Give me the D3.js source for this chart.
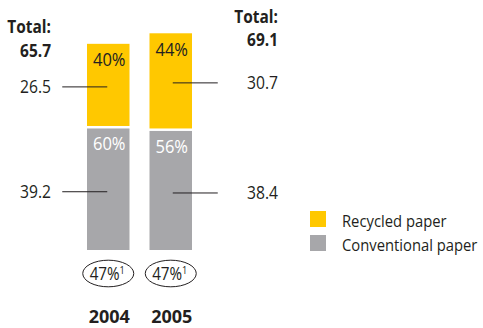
<!DOCTYPE html>
<html><head><meta charset="utf-8">
<script src="https://cdn.jsdelivr.net/npm/d3@7"></script>
<style>
body{margin:0;background:#fff;}
text{font-family:"Open Sans",sans-serif;fill:#231f20;}
</style></head>
<body>
<svg id="chart" width="483" height="328"></svg>
<script>
const years = ["2004", "2005"];
const conventional = [39.2, 38.4];
const recycled = [26.5, 30.7];
const totals = [65.7, 69.1];
const convPct = ["60%", "56%"];
const recPct = ["40%", "44%"];
const footPct = ["47%", "47%"];
const seriesNames = ["Recycled paper", "Conventional paper"];
const colors = {recycled: "#FFC800", conventional: "#A7A7AA"};

const svg = d3.select("#chart");
const x = d3.scaleBand().domain(years).range([87, 192]).paddingInner(0.32).paddingOuter(0);
const y = d3.scaleLinear().domain([0, 80]).range([250, 2]);
const gap = 2.5;
const bw = x.bandwidth();

function label(px, py, txt, o) {
  o = o || {};
  const t = svg.append("text")
    .attr("transform", `translate(${px},${py}) scale(${o.sx || 0.87},1)`)
    .attr("text-anchor", o.anchor || "start")
    .attr("font-size", o.size || 17)
    .attr("font-weight", o.bold ? "bold" : "normal")
    .text(txt);
  if (o.fill) t.style("fill", o.fill);
  return t;
}

years.forEach((yr, i) => {
  const x0 = x(yr), xc = x0 + bw / 2;
  const gTop = y(conventional[i]);
  const rBot = gTop - gap, rTop = y(totals[i]) - gap;
  svg.append("rect").attr("x", x0).attr("y", gTop).attr("width", bw).attr("height", y(0) - gTop).attr("fill", colors.conventional);
  svg.append("rect").attr("x", x0).attr("y", rTop).attr("width", bw).attr("height", rBot - rTop).attr("fill", colors.recycled);

  label(xc + 1, rTop + 22.5, recPct[i], {anchor: "middle", size: 19});
  label(xc + 1, gTop + 22, convPct[i], {anchor: "middle", size: 19, fill: "#fff"});

  const left = i === 0;
  const lx1 = left ? xc - 46 : xc + 2, lx2 = left ? xc - 1 : xc + 47;
  const lyR = (rTop + rBot) / 2 + 2, lyG = (gTop + y(0)) / 2 + 2.5;
  [lyR, lyG].forEach(ly => svg.append("line").attr("x1", lx1).attr("x2", lx2).attr("y1", ly).attr("y2", ly).attr("stroke", "#231f20").attr("stroke-width", 1));
  const tx = left ? 51 : 278;
  label(tx, lyR + 6.5, recycled[i].toFixed(1), {anchor: "end", size: 18});
  label(tx, lyG + 6.5, conventional[i].toFixed(1), {anchor: "end", size: 18});
  label(tx, rTop - 10.5, "Total:", {anchor: "end", size: 17, bold: true, sx: 0.91});
  label(tx, rTop + 13, totals[i].toFixed(1), {anchor: "end", size: 17, bold: true, sx: 0.91});

  svg.append("ellipse").attr("cx", xc).attr("cy", 273.5).attr("rx", 25.5).attr("ry", 13.3).attr("fill", "none").attr("stroke", "#231f20").attr("stroke-width", 1);
  const t = label(xc - 1, 280, "", {anchor: "middle", size: 17.5});
  t.append("tspan").text(footPct[i]);
  t.append("tspan").attr("font-size", 10.5).attr("dy", -6.5).text("1");

  label(xc + 1, 323, yr, {anchor: "middle", size: 18, bold: true, sx: 1});
});

seriesNames.forEach((n, i) => {
  svg.append("rect").attr("x", 310).attr("y", 211 + i * 24).attr("width", 16).attr("height", 16).attr("fill", i === 0 ? colors.recycled : colors.conventional);
  label(342, 226.5 + i * 24, n, {size: 17});
});
</script>
</body></html>
